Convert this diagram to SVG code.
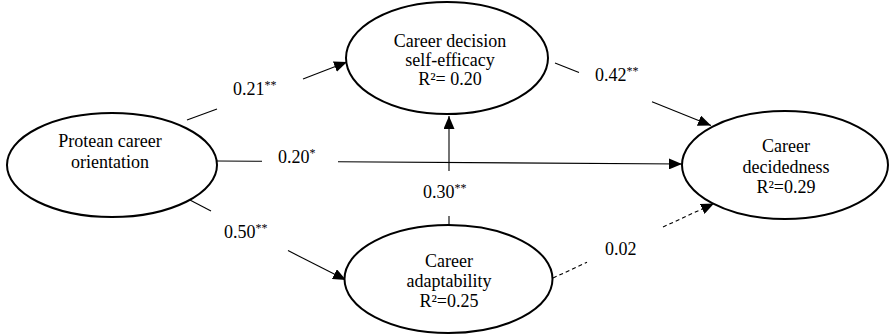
<svg xmlns="http://www.w3.org/2000/svg" width="889" height="335" viewBox="0 0 889 335">
<style>
  .node ellipse { fill: #ffffff; stroke: #000000; stroke-width: 2; }
  .node text, .lbl { font-family: "Liberation Serif", "Times New Roman", serif; font-size: 18px; fill: #000000; }
  .node text { text-anchor: middle; }
  .sup { font-size: 12px; }
  .conn line { stroke: #000000; stroke-width: 1.1; fill: none; }
  .conn line.dash { stroke-dasharray: 4 3; }
</style>
<defs>
  <marker id="arr" markerUnits="userSpaceOnUse" markerWidth="13" markerHeight="11" refX="13" refY="5.5" orient="auto">
    <path d="M0,0 L13,5.5 L0,11 z" fill="#000000"/>
  </marker>
</defs>
<rect width="889" height="335" fill="#ffffff"/>

<g id="connectors" class="conn">
  <line x1="187" y1="120" x2="217" y2="109"/>
  <line x1="303" y1="79" x2="347" y2="62" marker-end="url(#arr)"/>
  <line x1="217" y1="161" x2="262" y2="161.3"/>
  <line x1="338" y1="161.8" x2="682" y2="164" marker-end="url(#arr)"/>
  <line x1="555" y1="63" x2="579" y2="72.6"/>
  <line x1="652" y1="101.8" x2="711" y2="125.5" marker-end="url(#arr)"/>
  <line x1="188" y1="199" x2="211" y2="211"/>
  <line x1="288" y1="250.6" x2="346" y2="280" marker-end="url(#arr)"/>
  <line x1="449" y1="225" x2="449" y2="216"/>
  <line x1="449" y1="171" x2="449" y2="116" marker-end="url(#arr)"/>
  <line class="dash" x1="553" y1="278" x2="587" y2="262.3"/>
  <line class="dash" x1="663" y1="227" x2="714" y2="203.5" marker-end="url(#arr)"/>
</g>

<g id="labels">
  <text class="lbl" x="233" y="95">0.21<tspan class="sup" dy="-6">**</tspan></text>
  <text class="lbl" x="278" y="163">0.20<tspan class="sup" dy="-6">*</tspan></text>
  <text class="lbl" x="595" y="81">0.42<tspan class="sup" dy="-6">**</tspan></text>
  <text class="lbl" x="224" y="238">0.50<tspan class="sup" dy="-6">**</tspan></text>
  <text class="lbl" x="423" y="198">0.30<tspan class="sup" dy="-6">**</tspan></text>
  <text class="lbl" x="605" y="255">0.02</text>
</g>

<g id="protean" class="node">
  <ellipse cx="112" cy="165" rx="105" ry="52"/>
  <text x="110" y="147">Protean career</text>
  <text x="110" y="168">orientation</text>
</g>

<g id="self-efficacy" class="node">
  <ellipse cx="447" cy="58" rx="101" ry="56"/>
  <text x="450" y="47">Career decision</text>
  <text x="450" y="66">self-efficacy</text>
  <text x="450" y="85">R²= 0.20</text>
</g>

<g id="adaptability" class="node">
  <ellipse cx="448.5" cy="279" rx="104" ry="54"/>
  <text x="449" y="267">Career</text>
  <text x="449" y="287">adaptability</text>
  <text x="449" y="307">R²=0.25</text>
</g>

<g id="decidedness" class="node">
  <ellipse cx="785" cy="165" rx="103" ry="54"/>
  <text x="786" y="152">Career</text>
  <text x="786" y="173">decidedness</text>
  <text x="786" y="193">R²=0.29</text>
</g>
</svg>
